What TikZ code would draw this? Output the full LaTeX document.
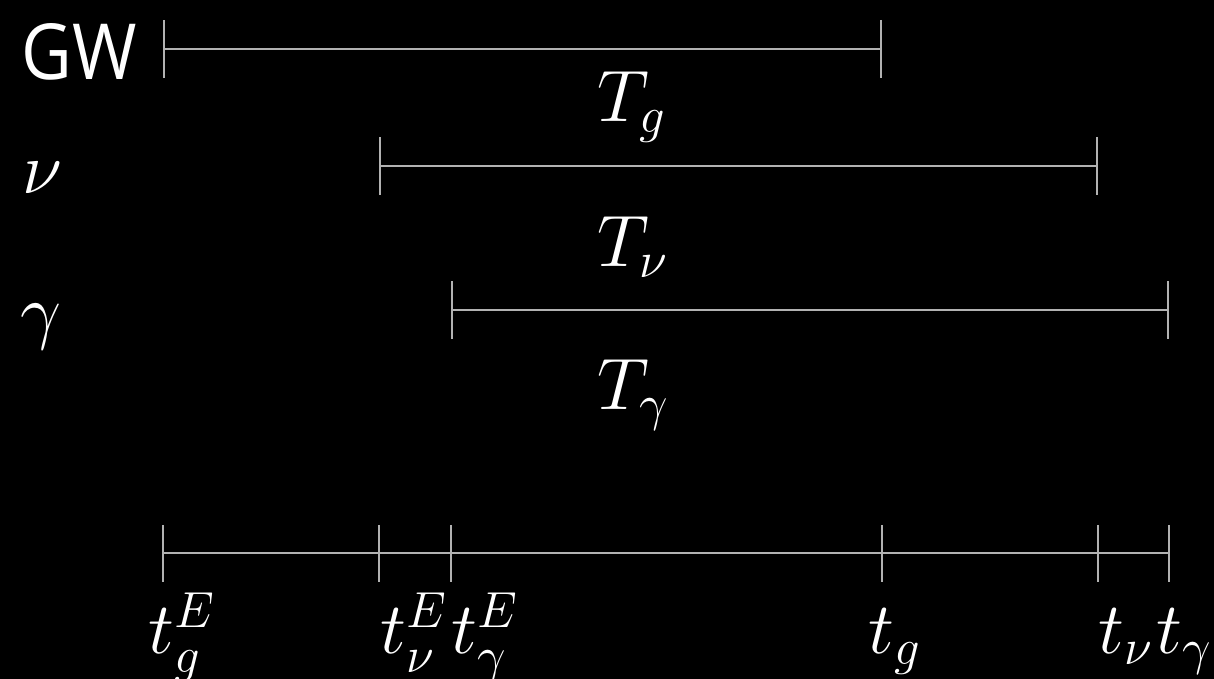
\documentclass[tikz,border=0pt]{standalone}
\usepackage{fontspec}
\newfontfamily\gwfont[FakeStretch=0.9]{Open Sans}
\definecolor{linegray}{RGB}{178,178,178}
\usetikzlibrary{arrows.meta}

\tikzset{
  lbl/.style={text=white, inner sep=0pt, anchor=base west, font=\fontsize{22}{26}\selectfont},
  span/.style={draw=linegray, line width=0.45pt, {Bar[width=0.58cm]}-{Bar[width=0.58cm]}},
}

\begin{document}
\begin{tikzpicture}[x=0.01cm, y=-0.01cm]
    % black slide background
    \fill[black] (0,0) rectangle (1214,679);
    \useasboundingbox (0,0) rectangle (1214,679);
    % row labels
    \node[lbl, font=\gwfont\fontsize{22}{26}\selectfont] (gw) at (21,80) {GW};
    \node[lbl] (nu) at (22,194) {$\nu$};
    \node[lbl] (gam) at (20,336) {$\gamma$};
    % emission and arrival points
    \coordinate (tgE) at (163,49);   \coordinate (tg) at (882,49);
    \coordinate (tnuE) at (379,166); \coordinate (tnu) at (1098,166);
    \coordinate (tgamE) at (451,310); \coordinate (tgam) at (1169,310);
    % travel intervals
    \draw[span] (tgE) -- (tg);
    \draw[span] (tnuE) -- (tnu);
    \draw[span] (tgamE) -- (tgam);
    \node[lbl] (Tg) at (597,122) {$T_g$};
    \node[lbl] (Tnu) at (597,267) {$T_\nu$};
    \node[lbl] (Tgam) at (597,410) {$T_\gamma$};
    % common time axis
    \draw[draw=linegray, line width=0.45pt] (tgE |- 0,553) -- (tgam |- 0,553);
    \foreach \c in {tgE,tnuE,tgamE,tg,tnu,tgam}
      \draw[draw=linegray, line width=0.45pt] (\c |- 0,525) -- (\c |- 0,582);
    \node[lbl] (lgE) at (148,654) {$t_g^E$};
    \node[lbl] (lnuE) at (380,654) {$t_\nu^E$};
    \node[lbl] (lgamE) at (451,654) {$t_\gamma^E$};
    \node[lbl] (lg) at (868,654) {$t_g$};
    \node[lbl] (lnu) at (1098,654) {$t_\nu$};
    \node[lbl] (lgam) at (1156,654) {$t_\gamma$};
\end{tikzpicture}
\end{document}
